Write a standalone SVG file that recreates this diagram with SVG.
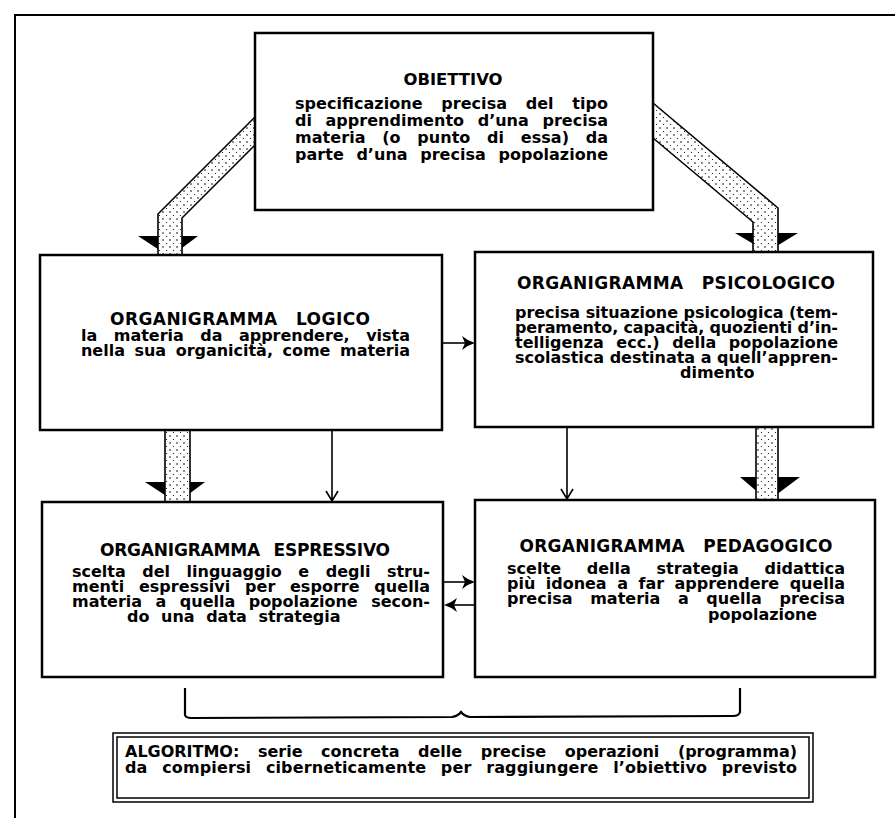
<svg xmlns="http://www.w3.org/2000/svg" width="895" height="821" viewBox="0 0 895 821">
<style>
.box{fill:#fff;stroke:#000;stroke-width:2.5}
.frame{fill:none;stroke:#000;stroke-width:2}
.t{font-family:"DejaVu Sans","Liberation Sans",sans-serif;font-weight:bold;fill:#000}
.ti{font-size:17px;text-anchor:middle}
.tb{font-size:16px}
.band{fill:url(#dots);stroke:#000;stroke-width:1.6}
.head{fill:#000}
.thin{fill:none;stroke:#000;stroke-width:1.6}
.alg{fill:none;stroke:#000;stroke-width:1.5}
</style>
<defs>
<pattern id="dots" width="7" height="7" patternUnits="userSpaceOnUse">
<rect width="7" height="7" fill="#fff"/>
<circle cx="2" cy="2" r="0.8" fill="#000"/>
<circle cx="5.5" cy="5.5" r="0.6" fill="#000"/>
</pattern>
</defs>
<rect width="895" height="821" fill="#fff"/>
<g id="frame">
<path class="frame" d="M15,818 L15,15 L895,15"/>
</g>
<g id="connectors">
<polygon class="head" points="138,236 198,236 170,257"/>
<polygon class="band" points="255,117 158,214 158,256 182,256 182,218 255,145"/>
<polygon class="head" points="735,233 798,233 767,252"/>
<polygon class="band" points="653,103 778,208 778,252 753,252 753,222 653,138"/>
<polygon class="head" points="145,482 205,482 177,503"/>
<rect class="band" x="165" y="430" width="25" height="72"/>
<polygon class="head" points="740,477 800,477 768,501"/>
<rect class="band" x="756" y="427" width="22" height="73"/>
<path class="thin" d="M332,430 L332,501 M326,491 L332,501 L338,491"/>
<path class="thin" d="M567,427 L567,499 M561,489 L567,499 L573,489"/>
<path class="thin" d="M442,343 L466,343"/>
<path class="head" d="M462,336 Q468,341 475,343 Q468,345 462,350 L465,343 Z"/>
<path class="thin" d="M443,582 L466,582"/>
<path class="head" d="M462,575 Q468,580 475,582 Q468,584 462,589 L465,582 Z"/>
<path class="thin" d="M476,605 L453,605"/>
<path class="head" d="M457,598 Q451,603 444,605 Q451,607 457,612 L454,605 Z"/>
<path id="brace" fill="none" stroke="#000" stroke-width="2.2" d="M185,688 L185,715 Q186,718 191,718 L452,717 Q458,716 461,712 Q464,716 470,717 L733,716 Q739,716 740,712 L740,688"/>
</g>
<g id="node-obiettivo">
<rect class="box" x="255" y="33" width="398" height="177"/>
<text class="t ti" x="453" y="85" textLength="99" lengthAdjust="spacingAndGlyphs" style="font-size:16px">OBIETTIVO</text>
<text class="t tb" x="295" y="109" textLength="313" lengthAdjust="spacing" word-spacing="13">specificazione precisa del tipo</text>
<text class="t tb" x="295" y="126" textLength="313" lengthAdjust="spacing" word-spacing="8">di apprendimento d’una precisa</text>
<text class="t tb" x="295" y="143" textLength="313" lengthAdjust="spacing" word-spacing="11">materia (o punto di essa) da</text>
<text class="t tb" x="295" y="160" textLength="313" lengthAdjust="spacing" word-spacing="7">parte d’una precisa popolazione</text>
</g>
<g id="node-logico">
<rect class="box" x="40" y="255" width="402" height="175"/>
<text class="t ti" x="240" y="325" textLength="260" lengthAdjust="spacing" word-spacing="12">ORGANIGRAMMA LOGICO</text>
<text class="t tb" x="81" y="341" textLength="329" lengthAdjust="spacing" word-spacing="11">la materia da apprendere, vista</text>
<text class="t tb" x="81" y="356" textLength="329" lengthAdjust="spacing" word-spacing="4">nella sua organicità, come materia</text>
</g>
<g id="node-psicologico">
<rect class="box" x="475" y="252" width="398" height="175"/>
<text class="t ti" x="676" y="289" textLength="318" lengthAdjust="spacing" word-spacing="12">ORGANIGRAMMA PSICOLOGICO</text>
<text class="t tb" x="515" y="318" textLength="323" lengthAdjust="spacing">precisa situazione psicologica (tem-</text>
<text class="t tb" x="515" y="333" textLength="323" lengthAdjust="spacing">peramento, capacità, quozienti d’in-</text>
<text class="t tb" x="515" y="348" textLength="323" lengthAdjust="spacing" word-spacing="7">telligenza ecc.) della popolazione</text>
<text class="t tb" x="515" y="363" textLength="323" lengthAdjust="spacing">scolastica destinata a quell’appren-</text>
<text class="t tb" x="680" y="378">dimento</text>
</g>
<g id="node-espressivo">
<rect class="box" x="42" y="502" width="401" height="175"/>
<text class="t ti" x="245" y="556" textLength="290" lengthAdjust="spacing" word-spacing="8">ORGANIGRAMMA ESPRESSIVO</text>
<text class="t tb" x="72" y="577" textLength="358" lengthAdjust="spacing" word-spacing="11">scelta del linguaggio e degli stru-</text>
<text class="t tb" x="72" y="592" textLength="358" lengthAdjust="spacing" word-spacing="9">menti espressivi per esporre quella</text>
<text class="t tb" x="72" y="607" textLength="358" lengthAdjust="spacing" word-spacing="8">materia a quella popolazione secon-</text>
<text class="t tb" x="127" y="622" word-spacing="6">do una data strategia</text>
</g>
<g id="node-pedagogico">
<rect class="box" x="475" y="500" width="400" height="177"/>
<text class="t ti" x="676" y="552" textLength="313" lengthAdjust="spacing" word-spacing="12">ORGANIGRAMMA PEDAGOGICO</text>
<text class="t tb" x="507" y="574" textLength="338" lengthAdjust="spacing" word-spacing="20">scelte della strategia didattica</text>
<text class="t tb" x="507" y="589" textLength="338" lengthAdjust="spacing" word-spacing="5">più idonea a far apprendere quella</text>
<text class="t tb" x="507" y="604" textLength="338" lengthAdjust="spacing" word-spacing="12">precisa materia a quella precisa</text>
<text class="t tb" x="708" y="620">popolazione</text>
</g>
<g id="node-algoritmo">
<rect class="alg" x="113" y="733" width="700" height="69"/>
<rect class="alg" x="117" y="737" width="692" height="61"/>
<text class="t tb" x="125" y="757" textLength="672" lengthAdjust="spacing" word-spacing="13">ALGORITMO: serie concreta delle precise operazioni (programma)</text>
<text class="t tb" x="125" y="773" textLength="672" lengthAdjust="spacing" word-spacing="9">da compiersi ciberneticamente per raggiungere l’obiettivo previsto</text>
</g>
</svg>
